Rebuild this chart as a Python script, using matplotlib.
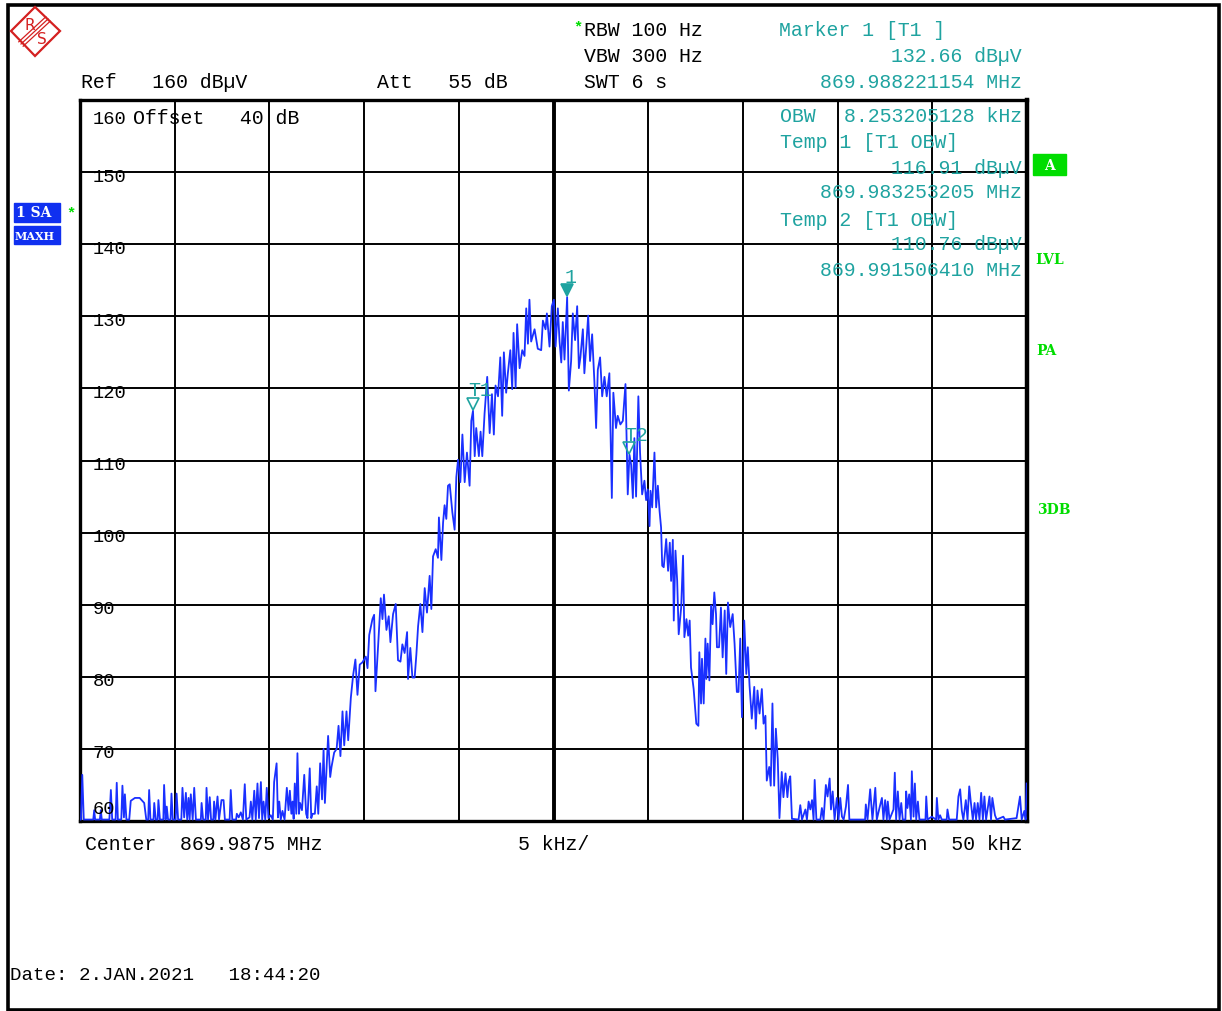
import numpy as np
import matplotlib
matplotlib.use('Agg')
import matplotlib.pyplot as plt
from matplotlib.transforms import offset_copy
from matplotlib.patches import Polygon, Rectangle

W, H = 1222, 1011

# ---- settings
center_mhz = 869.9875
span_khz = 50
div_khz = 5
ref_db = 160
levels = [160, 150, 140, 130, 120, 110, 100, 90, 80, 70, 60]

# markers (kHz offset from center, dBuV)
mk_names = ['1', 'T1', 'T2']
mk_freq = [0.721154, -4.246795, 4.00641]
mk_level = [132.66, 116.91, 110.76]

# ---- trace, (kHz offset, dBuV)
left_noise = [
    (-25.0, 60.2), (-24.95, 60.2), (-24.88, 66.4), (-24.8, 60.2), (-24.3, 60.2), (-24.25, 61.5),
    (-24.2, 60.2), (-23.95, 60.2), (-23.9, 61.5), (-23.85, 60.2), (-23.45, 60.2), (-23.37, 64.3),
    (-23.3, 60.2), (-23.12, 60.2), (-23.06, 65.3), (-23.0, 60.2), (-22.82, 60.2), (-22.76, 64.9),
    (-22.68, 60.5), (-22.63, 63.7), (-22.55, 60.2), (-22.4, 60.2), (-22.32, 62.8), (-22.1, 63.2),
    (-21.85, 63.2), (-21.61, 62.5), (-21.5, 60.2), (-21.4, 60.2), (-21.35, 64.3), (-21.28, 60.2),
    (-21.12, 60.2), (-21.08, 62.5), (-21.0, 60.2), (-20.9, 60.2), (-20.86, 62.9), (-20.78, 60.2),
    (-20.6, 60.2), (-20.56, 65.0), (-20.48, 60.2), (-20.42, 62.0), (-20.35, 60.2), (-20.22, 60.2),
    (-20.17, 63.8), (-20.1, 60.2), (-19.95, 60.2), (-19.9, 63.8), (-19.82, 60.2), (-19.65, 60.2),
    (-19.59, 64.6), (-19.5, 60.5), (-19.41, 63.9), (-19.34, 60.2), (-19.27, 63.2), (-19.21, 60.2),
    (-19.15, 63.7), (-19.05, 60.2), (-18.97, 64.6), (-18.88, 60.2), (-18.62, 60.2), (-18.58, 62.5),
    (-18.5, 60.2), (-18.36, 60.2), (-18.32, 64.6), (-18.24, 60.2), (-18.15, 63.3), (-18.08, 60.2),
    (-17.96, 60.2), (-17.92, 62.7), (-17.85, 60.2), (-17.74, 63.4), (-17.66, 60.2), (-17.53, 62.9),
    (-17.42, 62.9), (-17.35, 60.2), (-17.1, 60.2), (-17.04, 64.3), (-16.96, 60.2), (-16.76, 60.2),
    (-16.72, 61.0), (-16.62, 60.5), (-16.51, 61.2), (-16.4, 60.2), (-16.3, 65.1), (-16.22, 60.2),
    (-16.05, 60.5), (-15.98, 62.7), (-15.9, 60.2), (-15.8, 64.2), (-15.72, 60.2), (-15.63, 65.2),
    (-15.55, 60.4), (-15.45, 65.4), (-15.38, 60.2), (-15.31, 62.7), (-15.22, 60.2), (-15.14, 64.6),
    (-15.05, 60.4), (-14.93, 60.8), (-14.82, 60.2), (-14.75, 65.4), (-14.62, 68.0), (-14.55, 60.5),
    (-14.48, 62.7), (-14.4, 60.2), (-14.31, 61.4), (-14.2, 60.2), (-14.08, 64.6), (-13.99, 61.5),
    (-13.92, 64.2), (-13.84, 61.0), (-13.78, 62.7), (-13.72, 60.3), (-13.66, 65.2), (-13.58, 61.0),
    (-13.52, 69.4), (-13.44, 61.0), (-13.38, 62.5), (-13.28, 61.5), (-13.16, 66.4), (-13.06, 61.0),
    (-12.99, 60.4), (-12.87, 67.3), (-12.79, 60.4), (-12.72, 61.0), (-12.6, 61.0), (-12.5, 64.8),
    (-12.42, 61.0), (-12.32, 68.0), (-12.22, 63.0), (-12.14, 70.0), (-12.07, 62.5),
]

main_lobe = [
    (-11.9, 71.8), (-11.79, 66.1), (-11.72, 67.5), (-11.58, 69.5), (-11.45, 70.0), (-11.35, 73.2),
    (-11.25, 69.0), (-11.14, 75.2), (-11.05, 70.5), (-10.93, 75.2), (-10.84, 71.2), (-10.7, 77.1),
    (-10.58, 80.2), (-10.46, 82.4), (-10.35, 77.5), (-10.23, 81.7), (-10.09, 82.0), (-9.91, 82.8),
    (-9.82, 81.2), (-9.73, 85.8), (-9.56, 88.0), (-9.47, 88.6), (-9.4, 78.0), (-9.26, 84.3),
    (-9.12, 90.9), (-9.03, 88.0), (-8.95, 91.4), (-8.82, 86.5), (-8.7, 88.4), (-8.61, 84.8),
    (-8.47, 88.7), (-8.33, 90.1), (-8.21, 82.3), (-8.08, 82.1), (-7.98, 84.5), (-7.86, 83.3),
    (-7.73, 86.2), (-7.68, 79.7), (-7.56, 84.0), (-7.45, 79.9), (-7.33, 79.9), (-7.24, 83.1),
    (-7.15, 87.0), (-7.03, 90.1), (-6.92, 86.2), (-6.8, 92.3), (-6.68, 88.9), (-6.54, 94.0),
    (-6.45, 89.4), (-6.36, 96.7), (-6.22, 97.7), (-6.1, 96.5), (-6.05, 102.1), (-5.92, 96.2),
    (-5.83, 101.4), (-5.75, 103.8), (-5.66, 101.9), (-5.57, 106.5), (-5.48, 106.7), (-5.34, 102.8),
    (-5.22, 100.4), (-5.13, 107.7), (-5.04, 110.1), (-4.92, 107.0), (-4.81, 113.6), (-4.69, 107.0),
    (-4.57, 111.1), (-4.43, 106.5), (-4.34, 115.5), (-4.25, 116.9), (-4.16, 110.6), (-4.08, 114.5),
    (-3.94, 110.6), (-3.85, 114.0), (-3.76, 110.6), (-3.64, 116.5), (-3.5, 121.6), (-3.37, 113.8),
    (-3.25, 119.2), (-3.15, 113.6), (-3.06, 120.4), (-2.93, 118.9), (-2.81, 124.3), (-2.71, 116.2),
    (-2.62, 125.0), (-2.5, 119.4), (-2.41, 122.1), (-2.28, 125.3), (-2.18, 119.9), (-2.11, 127.7),
    (-2.0, 120.1), (-1.92, 128.9), (-1.79, 122.8), (-1.65, 125.3), (-1.53, 124.5), (-1.44, 131.1),
    (-1.35, 126.2), (-1.27, 132.3), (-1.18, 126.5), (-1.0, 128.2), (-0.83, 125.5), (-0.65, 125.3),
    (-0.56, 129.4), (-0.42, 128.2), (-0.35, 130.4), (-0.21, 125.8), (-0.09, 131.4), (0.02, 132.3),
    (0.11, 125.8), (0.23, 131.1), (0.32, 126.5), (0.41, 123.6), (0.49, 129.2), (0.58, 124.0),
    (0.72, 132.66), (0.81, 119.7), (0.93, 123.8), (1.02, 130.4), (1.14, 126.7), (1.25, 131.4),
    (1.34, 122.8), (1.42, 124.3), (1.55, 128.2), (1.63, 122.1), (1.72, 125.5), (1.83, 130.1),
    (1.93, 123.8), (2.04, 127.5), (2.16, 120.9), (2.25, 114.5), (2.34, 122.6), (2.46, 124.3),
    (2.57, 118.9), (2.69, 121.6), (2.81, 118.9), (2.95, 122.1), (3.08, 104.8), (3.16, 119.4),
    (3.3, 114.5), (3.39, 116.2), (3.53, 115.0), (3.66, 115.5), (3.8, 120.6), (3.92, 105.3),
    (4.01, 110.8), (4.1, 109.4), (4.19, 104.8), (4.27, 113.1), (4.36, 105.0), (4.48, 118.9),
    (4.57, 111.1), (4.68, 105.3), (4.8, 107.2), (4.89, 104.5), (4.98, 106.0), (5.07, 100.9),
    (5.12, 105.8), (5.21, 103.5), (5.33, 111.1), (5.42, 103.5), (5.51, 106.5), (5.6, 103.0),
    (5.68, 100.7), (5.74, 95.4), (5.82, 95.2), (5.95, 99.1), (6.05, 94.7), (6.14, 98.6),
    (6.21, 93.3), (6.3, 99.0), (6.35, 87.8), (6.44, 97.5), (6.53, 93.3), (6.61, 85.9),
    (6.74, 89.6), (6.84, 96.8), (6.91, 85.5), (7.02, 88.0), (7.11, 85.7), (7.19, 87.8),
    (7.26, 81.3), (7.4, 78.3), (7.54, 73.5), (7.65, 73.2), (7.7, 83.4), (7.79, 76.3),
    (7.84, 82.5), (7.93, 76.3), (8.02, 85.3), (8.07, 79.7), (8.14, 84.6), (8.23, 79.5),
    (8.32, 89.9), (8.4, 87.3), (8.49, 91.7), (8.58, 88.7), (8.63, 84.1), (8.74, 84.1),
    (8.84, 89.6), (8.93, 82.7), (9.04, 89.2), (9.12, 80.4), (9.21, 90.3), (9.33, 86.9),
    (9.46, 88.7), (9.56, 84.6), (9.68, 77.9), (9.77, 77.9), (9.86, 85.3), (9.95, 74.4),
    (10.07, 87.8), (10.18, 80.4), (10.26, 84.1), (10.35, 78.8), (10.47, 74.2), (10.6, 78.6),
    (10.68, 72.8), (10.77, 78.1), (10.88, 74.9), (11.0, 78.3), (11.09, 73.5), (11.19, 74.6),
    (11.26, 65.6), (11.39, 67.5), (11.47, 64.9), (11.56, 76.3), (11.65, 64.9), (11.74, 72.8),
    (11.84, 68.6), (11.93, 60.4),
]

right_noise = [
    (12.05, 66.8), (12.14, 63.3), (12.25, 66.6), (12.35, 63.3), (12.42, 65.5), (12.5, 66.2),
    (12.59, 60.3), (12.94, 60.2), (13.03, 62.2), (13.12, 60.2), (13.3, 61.6), (13.38, 60.2),
    (13.47, 62.7), (13.56, 61.6), (13.65, 62.9), (13.73, 60.2), (13.79, 65.7), (13.88, 60.2),
    (14.09, 60.2), (14.17, 61.8), (14.26, 60.2), (14.38, 65.0), (14.47, 63.4), (14.58, 65.9),
    (14.65, 61.6), (14.74, 64.1), (14.84, 60.2), (14.96, 63.2), (15.05, 60.2), (15.14, 63.2),
    (15.23, 60.6), (15.32, 60.2), (15.44, 62.0), (15.55, 65.0), (15.62, 60.2), (16.45, 60.2),
    (16.49, 62.3), (16.58, 60.2), (16.72, 64.4), (16.84, 60.2), (16.99, 64.6), (17.07, 60.2),
    (17.21, 61.8), (17.34, 63.2), (17.42, 60.2), (17.51, 62.9), (17.6, 60.2), (17.65, 62.7),
    (17.74, 60.2), (17.95, 61.6), (18.02, 66.7), (18.09, 60.2), (18.18, 64.1), (18.27, 60.2),
    (18.36, 62.5), (18.44, 60.2), (18.58, 60.2), (18.62, 64.1), (18.69, 61.8), (18.78, 63.7),
    (18.87, 60.2), (18.92, 66.9), (19.01, 60.6), (19.08, 65.2), (19.15, 60.2), (19.24, 62.7),
    (19.32, 60.2), (19.64, 60.2), (19.68, 63.4), (19.75, 60.2), (19.97, 60.6), (20.2, 60.2),
    (20.24, 63.2), (20.32, 60.2), (20.41, 60.8), (20.5, 60.2), (20.76, 60.2), (20.8, 61.6),
    (20.89, 60.2), (21.29, 60.2), (21.38, 63.4), (21.47, 64.4), (21.56, 61.4), (21.64, 60.2),
    (21.77, 62.9), (21.86, 60.2), (21.95, 64.8), (22.03, 62.7), (22.14, 60.2), (22.23, 62.5),
    (22.31, 60.2), (22.4, 62.5), (22.49, 60.2), (22.58, 63.9), (22.67, 60.2), (22.75, 63.4),
    (22.84, 60.2), (23.02, 63.4), (23.1, 60.2), (23.17, 63.2), (23.31, 60.8), (23.4, 60.2),
    (23.75, 60.6), (23.84, 60.2), (24.45, 60.4), (24.63, 63.4), (24.72, 60.2), (24.86, 61.4),
    (24.93, 60.2), (24.98, 65.2),
]

freq, level = np.array(left_noise + main_lobe + right_noise).T

# ---- colours / fonts
BLUE = '#1a30ff'
TEAL = '#1fa3a0'
GREEN = '#00dd00'
RED = '#d42020'
MONO = 'Liberation Mono'
FS = 14.3

fig = plt.figure(figsize=(W / 100, H / 100), dpi=100)

# plot area (pixels 80..1027 x 100..821)
ax = fig.add_axes([80 / W, 1 - 821 / H, 947 / W, 721 / H])
ax.set_xlim(-span_khz / 2, span_khz / 2)
ax.set_ylim(min(levels), max(levels))
ax.set_xticks(np.arange(-span_khz / 2, span_khz / 2 + 0.1, div_khz))
ax.set_yticks(levels)
ax.tick_params(length=0, labelbottom=False, labelleft=False)
ax.grid(True, color='black', lw=1.4)
ax.axvline(0, color='black', lw=2.8)
for s in ax.spines.values():
    s.set_linewidth(2.4)
ax.spines['right'].set_linewidth(3.2)

ax.plot(freq, level, color=BLUE, lw=1.3, zorder=4)

# level labels inside the grid
for v in levels:
    dy = -5
    if v == max(levels):
        dy = -20
    elif v == min(levels):
        dy = 11
    tr = offset_copy(ax.transData, fig=fig, y=dy, units='dots')
    ax.text(-24.35, v, str(v), transform=tr, va='center', ha='left',
            family=MONO, fontsize=13.5, color='black', zorder=5)

# markers
for name, f, lv in zip(mk_names, mk_freq, mk_level):
    filled = name == '1'
    tri = offset_copy(ax.transData, fig=fig, y=7, units='dots')
    ax.plot([f], [lv], marker='v', ms=8, transform=tri, zorder=6,
            mfc=TEAL if filled else 'none', mec=TEAL, mew=1.2, ls='none')
    lab = offset_copy(ax.transData, fig=fig, x=3 if filled else -5, y=20, units='dots')
    ax.text(f, lv, name, transform=lab, ha='center' if filled else 'left', va='center',
            family=MONO, fontsize=FS, color=TEAL, zorder=6)

# overlay in pixel coordinates for the screen texts
ov = fig.add_axes([0, 0, 1, 1], zorder=5)
ov.set_xlim(0, W)
ov.set_ylim(H, 0)
ov.axis('off')
ov.patch.set_alpha(0)

# outer frame
ov.add_patch(Rectangle((8, 5), 1211, 1005, fill=False, ec='black', lw=2.6))


def t(x, y, s, color='black', ha='left', **kw):
    kw.setdefault('family', MONO)
    kw.setdefault('fontsize', FS)
    ov.text(x, y, s, color=color, ha=ha, va='center', **kw)


# R&S logo
ov.add_patch(Polygon([(35, 7), (60, 31), (35, 56), (11, 31)], closed=True,
                     fill=False, ec=RED, lw=1.6))
for d in (-2.2, 0, 2.2):
    ov.plot([21 + d, 48 + d], [44 + d, 19 + d], color=RED, lw=0.9)
t(25, 25, 'R', color=RED, family='DejaVu Sans', fontsize=11)
t(37, 40, 'S', color=RED, family='DejaVu Sans', fontsize=11)

# header
t(573, 27, '*', color=GREEN, fontsize=11, weight='bold')
t(584, 30, 'RBW 100 Hz')
t(584, 56, 'VBW 300 Hz')
t(584, 82, 'SWT 6 s')
t(81, 82, 'Ref   %d dB\u00b5V' % ref_db)
t(377, 82, 'Att   55 dB')
t(779, 31, 'Marker 1 [T1 ]', color=TEAL)
t(1022, 56, '%.2f dB\u00b5V' % mk_level[0], color=TEAL, ha='right')
t(1022, 82, '%.9f MHz' % (center_mhz + mk_freq[0] / 1000), color=TEAL, ha='right')

# marker table inside the grid
t(133, 118, 'Offset   40 dB')
t(780, 117, 'OBW', color=TEAL)
t(1022, 117, '8.253205128 kHz', color=TEAL, ha='right')
t(780, 143, 'Temp 1 [T1 OBW]', color=TEAL)
t(1022, 168, '%.2f dB\u00b5V' % mk_level[1], color=TEAL, ha='right')
t(1022, 193, '%.9f MHz' % (center_mhz + mk_freq[1] / 1000), color=TEAL, ha='right')
t(780, 220, 'Temp 2 [T1 OBW]', color=TEAL)
t(1022, 245, '%.2f dB\u00b5V' % mk_level[2], color=TEAL, ha='right')
t(1022, 271, '%.9f MHz' % (center_mhz + mk_freq[2] / 1000), color=TEAL, ha='right')

# footer
t(85, 845, 'Center  %.4f MHz' % center_mhz)
t(554, 845, '%d kHz/' % div_khz, ha='center')
t(1022, 845, 'Span  %d kHz' % span_khz, ha='right')
t(10, 976, 'Date: 2.JAN.2021   18:44:20', fontsize=13.8)

# trace boxes on the left
ov.add_patch(Rectangle((14, 203), 46, 19, color='#1030f0'))
ov.add_patch(Rectangle((14, 226), 46, 18, color='#1030f0'))
t(16, 213, '1 SA', color='white', family='DejaVu Serif', fontsize=10, weight='bold')
t(15, 236, 'MAXH', color='white', family='DejaVu Serif', fontsize=8, weight='bold')
t(66, 213, '*', color=GREEN, fontsize=11, weight='bold')

# status flags on the right
ov.add_patch(Rectangle((1033, 154), 33, 21, color=GREEN))
t(1049, 166, 'A', color='white', ha='center', family='DejaVu Serif', fontsize=10, weight='bold')
t(1035, 260, 'LVL', color=GREEN, family='DejaVu Serif', fontsize=10, weight='bold')
t(1036, 351, 'PA', color=GREEN, family='DejaVu Serif', fontsize=10, weight='bold')
t(1037, 510, '3DB', color=GREEN, family='DejaVu Serif', fontsize=10, weight='bold')

fig.savefig('out.png', dpi=100, facecolor='white')
